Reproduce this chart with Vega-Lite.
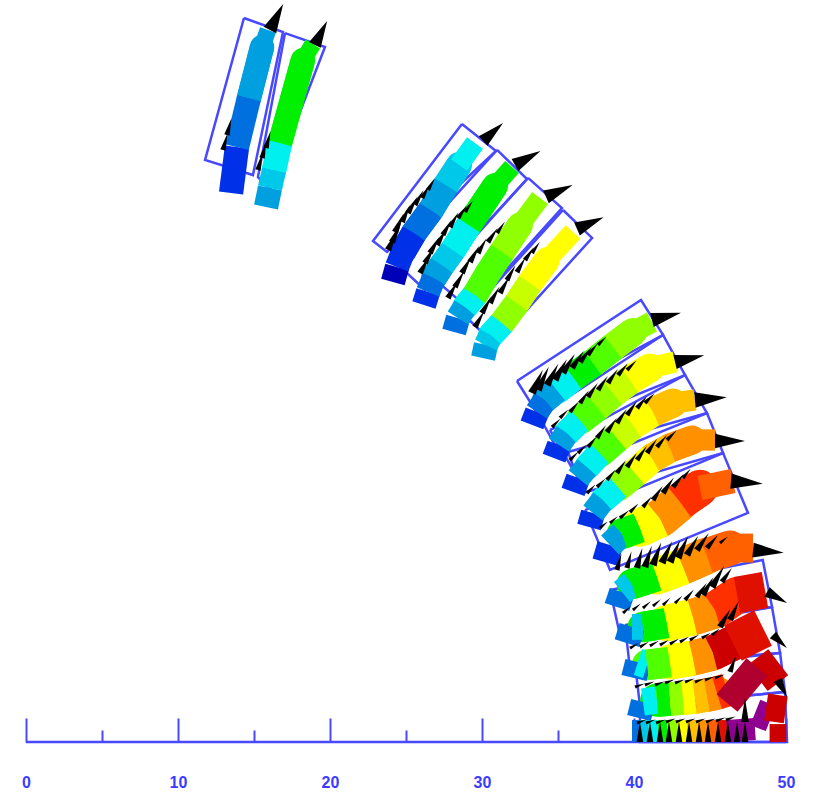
{"$schema":"https://vega.github.io/schema/vega-lite/v6.json","width":815,"height":794,"padding":0,"autosize":{"type":"none"},"background":"white","config":{"view":{"stroke":null}},
"datasets":{
"boxes":[
{"k":"axis","i":0,"x":0,"y":0},{"k":"axis","i":1,"x":50,"y":0},
{"k":"A1","i":0,"x":14.34,"y":47.63},{"k":"A1","i":1,"x":11.78,"y":38.29},{"k":"A1","i":2,"x":14.93,"y":37.30},{"k":"A1","i":3,"x":16.91,"y":46.71},{"k":"A1","i":4,"x":14.34,"y":47.63},
{"k":"A2","i":0,"x":17.04,"y":46.64},{"k":"A2","i":1,"x":19.67,"y":45.72},{"k":"A2","i":2,"x":16.05,"y":36.32},{"k":"A2","i":3,"x":15.26,"y":37.17},{"k":"A2","i":4,"x":17.04,"y":46.64},
{"k":"B1","i":0,"x":28.68,"y":40.66},{"k":"B1","i":1,"x":22.83,"y":32.96},{"k":"B1","i":2,"x":23.75,"y":32.24},{"k":"B1","i":3,"x":30.92,"y":38.88},{"k":"B1","i":4,"x":28.68,"y":40.66},
{"k":"B2","i":0,"x":30.99,"y":38.95},{"k":"B2","i":1,"x":32.96,"y":37.04},{"k":"B2","i":2,"x":26.25,"y":29.74},{"k":"B2","i":3,"x":24.28,"y":31.58},{"k":"B2","i":4,"x":30.99,"y":38.95},
{"k":"B3","i":0,"x":33.03,"y":37.11},{"k":"B3","i":1,"x":35.26,"y":35.13},{"k":"B3","i":2,"x":29.21,"y":28.42},{"k":"B3","i":3,"x":26.97,"y":30.39},{"k":"B3","i":4,"x":33.03,"y":37.11},
{"k":"B4","i":0,"x":35.33,"y":35.0},{"k":"B4","i":1,"x":37.24,"y":33.16},{"k":"B4","i":2,"x":30.86,"y":26.12},{"k":"B4","i":3,"x":28.95,"y":27.96},{"k":"B4","i":4,"x":35.33,"y":35.0},
{"k":"C1","i":0,"x":32.30,"y":23.75},{"k":"C1","i":1,"x":40.46,"y":29.08},{"k":"C1","i":2,"x":41.91,"y":26.78},{"k":"C1","i":3,"x":33.75,"y":21.45},{"k":"C1","i":4,"x":32.30,"y":23.75},
{"k":"C2","i":0,"x":33.36,"y":22.17},{"k":"C2","i":1,"x":41.91,"y":26.78},{"k":"C2","i":2,"x":43.36,"y":24.14},{"k":"C2","i":3,"x":34.80,"y":19.54},{"k":"C2","i":4,"x":33.36,"y":22.17},
{"k":"C3","i":0,"x":34.47,"y":20.53},{"k":"C3","i":1,"x":43.36,"y":24.14},{"k":"C3","i":2,"x":44.80,"y":21.64},{"k":"C3","i":3,"x":35.92,"y":18.03},{"k":"C3","i":4,"x":34.47,"y":20.53},
{"k":"C4","i":0,"x":35.66,"y":19.08},{"k":"C4","i":1,"x":44.80,"y":21.64},{"k":"C4","i":2,"x":45.86,"y":19.01},{"k":"C4","i":3,"x":36.64,"y":16.38},{"k":"C4","i":4,"x":35.66,"y":19.08},
{"k":"C5","i":0,"x":36.78,"y":15.26},{"k":"C5","i":1,"x":45.86,"y":19.01},{"k":"C5","i":2,"x":47.50,"y":15.07},{"k":"C5","i":3,"x":38.42,"y":11.32},{"k":"C5","i":4,"x":36.78,"y":15.26},
{"k":"D1","i":0,"x":38.42,"y":10.0},{"k":"D1","i":1,"x":48.47,"y":11.97},{"k":"D1","i":2,"x":49.08,"y":8.88},{"k":"D1","i":3,"x":39.08,"y":7.04},{"k":"D1","i":4,"x":38.42,"y":10.0},
{"k":"D2","i":0,"x":39.41,"y":7.70},{"k":"D2","i":1,"x":49.08,"y":8.88},{"k":"D2","i":2,"x":49.61,"y":5.86},{"k":"D2","i":3,"x":39.74,"y":4.74},{"k":"D2","i":4,"x":39.41,"y":7.70},
{"k":"D3","i":0,"x":40.07,"y":5.07},{"k":"D3","i":1,"x":49.61,"y":5.86},{"k":"D3","i":2,"x":49.93,"y":3.29},{"k":"D3","i":3,"x":40.39,"y":2.43},{"k":"D3","i":4,"x":40.07,"y":5.07},
{"k":"D4","i":0,"x":40.39,"y":2.37},{"k":"D4","i":1,"x":49.93,"y":3.29},{"k":"D4","i":2,"x":50.07,"y":0},{"k":"D4","i":3,"x":40.39,"y":0},{"k":"D4","i":4,"x":40.39,"y":2.37}
],
"cells":[
{"b":"A1","x":13.49,"y":36.12,"l":1,"w":1.6},{"b":"A1","x":13.88,"y":39.14,"l":2,"w":1.6},{"b":"A1","x":14.67,"y":42.37,"l":3,"w":1.6},{"b":"A1","x":15.53,"y":45.72,"l":3,"w":1.1},{"b":"A1","x":15.92,"y":46.84},
{"b":"A2","x":15.79,"y":35.20,"l":3,"w":1.6},{"b":"A2","x":16.05,"y":36.45,"l":4,"w":1.6},{"b":"A2","x":16.32,"y":37.63,"l":5,"w":1.6},{"b":"A2","x":16.71,"y":39.41,"l":6,"w":1.6},{"b":"A2","x":18.22,"y":44.87,"l":6,"w":1.1},{"b":"A2","x":18.88,"y":45.92},
{"b":"B1","x":24.14,"y":30.26,"l":0,"w":1.6},{"b":"B1","x":24.41,"y":31.25,"l":1,"w":1.6},{"b":"B1","x":24.80,"y":32.24,"l":1,"w":1.7},{"b":"B1","x":25.53,"y":33.49,"l":2,"w":1.7},{"b":"B1","x":26.64,"y":35.00,"l":3,"w":1.7},{"b":"B1","x":27.63,"y":36.64,"l":4,"w":1.7},{"b":"B1","x":28.49,"y":37.96,"l":5,"w":1.3},{"b":"B1","x":29.54,"y":39.41},
{"b":"B2","x":26.18,"y":28.75,"l":1,"w":1.6},{"b":"B2","x":26.45,"y":29.61,"l":2,"w":1.6},{"b":"B2","x":26.84,"y":30.53,"l":3,"w":1.7},{"b":"B2","x":27.37,"y":31.38,"l":4,"w":1.7},{"b":"B2","x":28.09,"y":32.37,"l":5,"w":1.7},{"b":"B2","x":29.14,"y":34.01,"l":6,"w":1.7},{"b":"B2","x":30.86,"y":36.58,"l":6,"w":1.2},{"b":"B2","x":31.97,"y":37.83},
{"b":"B3","x":28.16,"y":26.97,"l":2,"w":1.6},{"b":"B3","x":28.42,"y":27.89,"l":3,"w":1.6},{"b":"B3","x":28.88,"y":28.62,"l":5,"w":1.7},{"b":"B3","x":29.54,"y":29.41,"l":7,"w":1.7},{"b":"B3","x":30.39,"y":30.86,"l":7,"w":1.7},{"b":"B3","x":31.32,"y":32.24,"l":8,"w":1.7},{"b":"B3","x":32.50,"y":34.01,"l":8,"w":1.3},{"b":"B3","x":33.82,"y":35.79},
{"b":"B4","x":30.07,"y":25.26,"l":3,"w":1.6},{"b":"B4","x":30.26,"y":26.12,"l":4,"w":1.6},{"b":"B4","x":30.59,"y":26.78,"l":5,"w":1.7},{"b":"B4","x":31.32,"y":27.57,"l":8,"w":1.7},{"b":"B4","x":32.30,"y":28.88,"l":9,"w":1.7},{"b":"B4","x":33.16,"y":30.20,"l":10,"w":1.7},{"b":"B4","x":34.28,"y":31.71,"l":10,"w":1.3},{"b":"B4","x":35.99,"y":33.55},
{"b":"C1","x":33.29,"y":20.86,"l":1,"w":1.6},{"b":"C1","x":33.62,"y":21.71,"l":2,"w":1.6},{"b":"C1","x":34.14,"y":22.50,"l":3,"w":1.7},{"b":"C1","x":34.93,"y":23.16,"l":5,"w":1.85},{"b":"C1","x":35.99,"y":24.01,"l":6,"w":1.85},{"b":"C1","x":37.30,"y":24.93,"l":7,"w":1.85},{"b":"C1","x":38.62,"y":25.99,"l":8,"w":1.85},{"b":"C1","x":39.93,"y":26.97,"l":8,"w":1.4},{"b":"C1","x":41.18,"y":27.63},
{"b":"C2","x":34.74,"y":18.68,"l":1,"w":1.6},{"b":"C2","x":35.07,"y":19.54,"l":3,"w":1.6},{"b":"C2","x":35.59,"y":20.33,"l":5,"w":1.7},{"b":"C2","x":36.45,"y":21.18,"l":7,"w":1.9},{"b":"C2","x":37.57,"y":22.04,"l":8,"w":1.9},{"b":"C2","x":38.62,"y":22.96,"l":9,"w":1.9},{"b":"C2","x":39.74,"y":23.82,"l":10,"w":1.9},{"b":"C2","x":41.05,"y":24.61,"l":10,"w":1.4},{"b":"C2","x":42.70,"y":25.00},
{"b":"C3","x":35.99,"y":16.45,"l":1,"w":1.6},{"b":"C3","x":36.32,"y":17.37,"l":3,"w":1.6},{"b":"C3","x":36.91,"y":18.09,"l":5,"w":1.7},{"b":"C3","x":37.76,"y":19.01,"l":7,"w":1.9},{"b":"C3","x":38.88,"y":20.00,"l":9,"w":1.9},{"b":"C3","x":39.93,"y":20.86,"l":10,"w":1.9},{"b":"C3","x":41.25,"y":21.71,"l":11,"w":1.9},{"b":"C3","x":42.57,"y":22.30,"l":11,"w":1.4},{"b":"C3","x":44.01,"y":22.50},
{"b":"C4","x":37.04,"y":14.14,"l":1,"w":1.6},{"b":"C4","x":37.30,"y":15.07,"l":3,"w":1.6},{"b":"C4","x":37.96,"y":15.92,"l":5,"w":1.7},{"b":"C4","x":38.95,"y":16.78,"l":8,"w":1.9},{"b":"C4","x":40.07,"y":17.70,"l":10,"w":1.9},{"b":"C4","x":41.18,"y":18.68,"l":11,"w":1.9},{"b":"C4","x":42.37,"y":19.34,"l":12,"w":1.9},{"b":"C4","x":43.82,"y":19.87,"l":12,"w":1.4},{"b":"C4","x":45.33,"y":19.87},
{"b":"C5","x":38.09,"y":11.84,"l":1,"w":1.7},{"b":"C5","x":38.42,"y":12.96,"l":3,"w":1.7},{"b":"C5","x":39.21,"y":13.7,"l":6,"w":2},{"b":"C5","x":40.39,"y":14.1,"l":10,"w":2.5},{"b":"C5","x":41.71,"y":14.7,"l":12,"w":2.5},{"b":"C5","x":43.03,"y":15.8,"l":14,"w":2.4},{"b":"C5","x":44.34,"y":16.71,"l":13,"w":1.6},{"b":"C5","x":46.51,"y":17.17},
{"b":"D1","x":38.88,"y":8.88,"l":2,"w":1.7},{"b":"D1","x":39.21,"y":9.87,"l":4,"w":1.7},{"b":"D1","x":39.87,"y":10.4,"l":6,"w":2},{"b":"D1","x":41.51,"y":10.9,"l":10,"w":2.4},{"b":"D1","x":43.22,"y":11.55,"l":12,"w":2.4},{"b":"D1","x":44.80,"y":12.25,"l":13,"w":2.3},{"b":"D1","x":46.32,"y":12.76,"l":13,"w":1.9},{"b":"D1","x":47.83,"y":12.76},
{"b":"D2","x":39.54,"y":6.51,"l":2,"w":1.7},{"b":"D2","x":39.87,"y":7.57,"l":4,"w":1.7},{"b":"D2","x":40.59,"y":7.57,"l":6,"w":2},{"b":"D2","x":42.17,"y":7.83,"l":10,"w":2.4},{"b":"D2","x":43.88,"y":8.22,"l":12,"w":2.4},{"b":"D2","x":45.33,"y":8.68,"l":14,"w":2.4},{"b":"D2","x":46.78,"y":9.67,"l":15,"w":2.4},{"b":"D2","x":48.62,"y":10.00},
{"b":"D3","x":40.00,"y":4.21,"l":2,"w":1.7},{"b":"D3","x":40.26,"y":5.26,"l":5,"w":1.8},{"b":"D3","x":40.86,"y":5.07,"l":7,"w":2},{"b":"D3","x":42.37,"y":5.26,"l":10,"w":2.3},{"b":"D3","x":43.88,"y":5.53,"l":12,"w":2.3},{"b":"D3","x":45.20,"y":5.86,"l":16,"w":2.3},{"b":"D3","x":46.51,"y":6.51,"l":15,"w":2.6},{"b":"D3","x":48.49,"y":7.50},
{"b":"D4","x":40.33,"y":1.58,"l":2,"w":1.6},{"b":"D4","x":40.59,"y":2.63,"l":5,"w":1.8},{"b":"D4","x":41.51,"y":2.76,"l":6,"w":2.2},{"b":"D4","x":42.37,"y":2.83,"l":8,"w":2.2},{"b":"D4","x":43.22,"y":2.89,"l":10,"w":2.2},{"b":"D4","x":44.01,"y":2.96,"l":11,"w":2.2},{"b":"D4","x":44.80,"y":3.09,"l":12,"w":2.2},{"b":"D4","x":45.46,"y":3.22,"l":14,"w":2.2},{"b":"D4","x":46.12,"y":3.42},
{"b":"D4r","x":48.16,"y":5.59,"l":16,"w":1.7},{"b":"D4r","x":49.47,"y":3.88},
{"b":"D4c","x":46.12,"y":2.57,"l":17,"w":1.8},{"b":"D4c","x":48.09,"y":4.93},
{"b":"D5","x":39.87,"y":0.72,"l":2,"w":1.45},{"b":"D5","x":40.39,"y":0.72,"l":4,"w":1.45},{"b":"D5","x":40.92,"y":0.72,"l":5,"w":1.45},{"b":"D5","x":41.58,"y":0.72,"l":6,"w":1.45},{"b":"D5","x":42.17,"y":0.72,"l":8,"w":1.45},{"b":"D5","x":42.89,"y":0.72,"l":10,"w":1.45},{"b":"D5","x":43.49,"y":0.72,"l":11,"w":1.45},{"b":"D5","x":44.21,"y":0.72,"l":12,"w":1.45},{"b":"D5","x":44.87,"y":0.72,"l":13,"w":1.45},{"b":"D5","x":45.53,"y":0.72,"l":15,"w":1.45},{"b":"D5","x":46.12,"y":0.72,"l":18,"w":1.45},{"b":"D5","x":47.96,"y":0.85},
{"b":"E1","x":48.16,"y":0.92,"l":18,"w":1.1},{"b":"E1","x":48.82,"y":2.57},
{"b":"E2","x":49.21,"y":1.32,"l":16,"w":1.3},{"b":"E2","x":49.47,"y":3.09},
{"b":"E3","x":49.47,"y":0,"l":16,"w":1.1},{"b":"E3","x":49.47,"y":1.18}
],
"tips":[
{"x":16.05,"y":46.84,"a":27,"m":1.04},{"x":19.01,"y":45.86,"a":27,"m":0.96},{"x":30.07,"y":39.54,"a":48,"m":0.96},{"x":32.17,"y":37.96,"a":61,"m":1.04},{"x":34.21,"y":35.86,"a":66,"m":1.04},{"x":36.25,"y":33.75,"a":66,"m":1.04},{"x":41.18,"y":27.76,"a":76,"m":1.07},{"x":42.70,"y":25.00,"a":77,"m":1.07},{"x":44.01,"y":22.50,"a":85,"m":1.14},{"x":45.33,"y":19.80,"a":90,"m":1.07},{"x":46.38,"y":17.17,"a":95,"m":1.14},{"x":47.83,"y":12.63,"a":95,"m":1.1},{"x":48.75,"y":9.87,"a":119,"m":0.82},{"x":49.14,"y":7.04,"a":133,"m":0.68},{"x":49.47,"y":4.08,"a":152,"m":0.7}
],
"vectors":[
{"x":12.96,"y":38.95,"a":15,"m":0.5},{"x":13.22,"y":39.93,"a":15,"m":0.5},{"x":15.26,"y":37.63,"a":15,"m":0.5},{"x":15.53,"y":38.42,"a":15,"m":0.5},{"x":15.79,"y":39.08,"a":15,"m":0.5},
{"x":23.82,"y":32.37,"a":25,"m":0.6},{"x":24.08,"y":32.89,"a":25,"m":0.6},{"x":24.28,"y":33.55,"a":25,"m":0.6},{"x":24.74,"y":34.21,"a":25,"m":0.55},{"x":25.13,"y":34.80,"a":30,"m":0.55},{"x":25.59,"y":35.33,"a":30,"m":0.5},{"x":26.05,"y":35.79,"a":30,"m":0.45},{"x":26.45,"y":36.32,"a":30,"m":0.4},
{"x":25.92,"y":30.86,"a":30,"m":0.55},{"x":26.25,"y":31.51,"a":30,"m":0.55},{"x":26.58,"y":32.17,"a":30,"m":0.55},{"x":27.04,"y":32.70,"a":30,"m":0.55},{"x":27.43,"y":33.36,"a":30,"m":0.5},{"x":27.89,"y":33.88,"a":30,"m":0.5},{"x":28.42,"y":34.47,"a":35,"m":0.45},{"x":28.88,"y":34.87,"a":35,"m":0.4},
{"x":27.76,"y":29.21,"a":30,"m":0.55},{"x":28.22,"y":29.93,"a":30,"m":0.55},{"x":28.68,"y":30.86,"a":30,"m":0.55},{"x":29.21,"y":31.58,"a":30,"m":0.55},{"x":29.74,"y":32.17,"a":30,"m":0.5},{"x":30.39,"y":32.89,"a":35,"m":0.5},{"x":30.99,"y":33.49,"a":35,"m":0.4},
{"x":29.54,"y":27.30,"a":30,"m":0.55},{"x":30.00,"y":28.22,"a":30,"m":0.55},{"x":30.53,"y":28.88,"a":30,"m":0.55},{"x":31.18,"y":29.54,"a":30,"m":0.55},{"x":31.64,"y":30.39,"a":30,"m":0.5},{"x":32.30,"y":30.92,"a":30,"m":0.5},{"x":32.83,"y":31.71,"a":35,"m":0.45},{"x":33.29,"y":32.17,"a":35,"m":0.4},
{"x":33.29,"y":22.96,"a":25,"m":0.75},{"x":33.68,"y":23.16,"a":25,"m":0.75},{"x":34.28,"y":23.49,"a":28,"m":0.7},{"x":34.80,"y":23.82,"a":30,"m":0.7},{"x":35.33,"y":24.28,"a":32,"m":0.65},{"x":35.92,"y":24.61,"a":35,"m":0.6},{"x":36.45,"y":25.00,"a":38,"m":0.55},{"x":36.97,"y":25.46,"a":40,"m":0.45},{"x":37.63,"y":26.12,"a":45,"m":0.35},
{"x":34.61,"y":20.72,"a":45,"m":0.35},{"x":35.13,"y":21.32,"a":45,"m":0.35},{"x":35.79,"y":21.71,"a":40,"m":0.4},{"x":36.45,"y":22.30,"a":35,"m":0.45},{"x":36.97,"y":22.70,"a":35,"m":0.5},{"x":37.63,"y":23.16,"a":35,"m":0.5},{"x":38.29,"y":23.62,"a":35,"m":0.5},{"x":38.95,"y":24.14,"a":40,"m":0.45},{"x":39.54,"y":24.47,"a":45,"m":0.4},
{"x":35.79,"y":18.55,"a":45,"m":0.35},{"x":36.32,"y":19.01,"a":45,"m":0.35},{"x":36.97,"y":19.41,"a":40,"m":0.4},{"x":37.57,"y":20.00,"a":35,"m":0.45},{"x":38.22,"y":20.39,"a":35,"m":0.5},{"x":38.88,"y":20.99,"a":35,"m":0.5},{"x":39.54,"y":21.51,"a":35,"m":0.5},{"x":40.20,"y":21.97,"a":40,"m":0.45},{"x":40.72,"y":22.30,"a":45,"m":0.4},
{"x":36.91,"y":16.38,"a":45,"m":0.35},{"x":37.57,"y":16.78,"a":45,"m":0.35},{"x":38.22,"y":17.24,"a":40,"m":0.4},{"x":38.88,"y":17.70,"a":35,"m":0.45},{"x":39.54,"y":18.09,"a":35,"m":0.5},{"x":40.20,"y":18.55,"a":35,"m":0.5},{"x":40.86,"y":19.01,"a":35,"m":0.5},{"x":41.51,"y":19.41,"a":40,"m":0.45},{"x":42.17,"y":19.87,"a":45,"m":0.4},
{"x":37.76,"y":14.08,"a":50,"m":0.3},{"x":38.42,"y":14.41,"a":50,"m":0.3},{"x":39.08,"y":14.74,"a":50,"m":0.35},{"x":39.74,"y":15.13,"a":45,"m":0.35},{"x":40.59,"y":15.46,"a":40,"m":0.4},{"x":41.25,"y":15.92,"a":35,"m":0.5},{"x":41.91,"y":16.38,"a":35,"m":0.55},{"x":42.57,"y":16.78,"a":40,"m":0.5},{"x":43.22,"y":17.37,"a":40,"m":0.35},
{"x":38.88,"y":11.32,"a":15,"m":0.5},{"x":39.54,"y":11.45,"a":15,"m":0.5},{"x":40.20,"y":11.45,"a":15,"m":0.6},{"x":40.72,"y":11.51,"a":18,"m":0.65},{"x":41.25,"y":11.64,"a":20,"m":0.7},{"x":41.84,"y":11.78,"a":25,"m":0.7},{"x":42.37,"y":11.84,"a":25,"m":0.7},{"x":42.89,"y":12.11,"a":25,"m":0.7},{"x":43.49,"y":12.30,"a":30,"m":0.65},{"x":44.14,"y":12.63,"a":35,"m":0.6},{"x":44.80,"y":12.76,"a":40,"m":0.5},{"x":45.66,"y":13.09,"a":50,"m":0.3},
{"x":39.28,"y":8.49,"a":50,"m":0.3},{"x":39.93,"y":8.68,"a":50,"m":0.3},{"x":40.59,"y":8.82,"a":50,"m":0.3},{"x":41.25,"y":8.95,"a":50,"m":0.3},{"x":41.91,"y":9.01,"a":45,"m":0.3},{"x":42.70,"y":9.14,"a":45,"m":0.3},{"x":43.36,"y":9.34,"a":40,"m":0.4},{"x":44.14,"y":9.54,"a":35,"m":0.5},{"x":44.54,"y":9.67,"a":30,"m":0.6},{"x":45.13,"y":10.20,"a":30,"m":0.7},{"x":45.79,"y":10.53,"a":35,"m":0.5},
{"x":39.74,"y":6.18,"a":60,"m":0.3},{"x":40.39,"y":6.25,"a":60,"m":0.3},{"x":41.05,"y":6.32,"a":60,"m":0.3},{"x":41.71,"y":6.38,"a":60,"m":0.3},{"x":42.37,"y":6.45,"a":60,"m":0.3},{"x":43.03,"y":6.58,"a":60,"m":0.3},{"x":43.68,"y":6.71,"a":60,"m":0.3},{"x":44.47,"y":6.84,"a":60,"m":0.3},{"x":45.13,"y":7.04,"a":50,"m":0.3},{"x":45.66,"y":7.57,"a":30,"m":0.6},{"x":46.32,"y":8.03,"a":25,"m":0.6},
{"x":40.07,"y":3.62,"a":70,"m":0.3},{"x":40.72,"y":3.75,"a":70,"m":0.3},{"x":41.38,"y":3.75,"a":70,"m":0.3},{"x":42.04,"y":3.88,"a":70,"m":0.3},{"x":42.70,"y":3.88,"a":70,"m":0.3},{"x":43.36,"y":3.95,"a":70,"m":0.3},{"x":44.01,"y":3.95,"a":70,"m":0.3},{"x":44.67,"y":4.08,"a":70,"m":0.3},{"x":45.33,"y":4.21,"a":70,"m":0.3},{"x":46.32,"y":4.61,"a":20,"m":0.5},
{"x":40.20,"y":1.25,"a":70,"m":0.3},{"x":40.79,"y":1.25,"a":70,"m":0.3},{"x":41.45,"y":1.25,"a":70,"m":0.3},{"x":42.11,"y":1.32,"a":70,"m":0.3},{"x":42.76,"y":1.32,"a":70,"m":0.3},{"x":43.42,"y":1.32,"a":70,"m":0.3},{"x":44.08,"y":1.32,"a":70,"m":0.3},{"x":44.74,"y":1.32,"a":70,"m":0.3},{"x":45.39,"y":1.38,"a":70,"m":0.3},{"x":46.05,"y":1.45,"a":70,"m":0.3},
{"x":40.39,"y":0,"a":0,"m":0.6},{"x":41.05,"y":0,"a":0,"m":0.6},{"x":41.71,"y":0,"a":0,"m":0.6},{"x":42.30,"y":0,"a":0,"m":0.6},{"x":42.96,"y":0,"a":0,"m":0.6},{"x":43.62,"y":0,"a":0,"m":0.6},{"x":44.28,"y":0,"a":0,"m":0.6},{"x":44.87,"y":0,"a":0,"m":0.6},{"x":45.53,"y":0,"a":0,"m":0.6},{"x":46.18,"y":0,"a":0,"m":0.6},{"x":46.78,"y":0,"a":0,"m":0.6},{"x":47.30,"y":0,"a":0,"m":0.6},{"x":47.30,"y":1.32,"a":0,"m":0.7}
]},
"resolve":{"scale":{"size":"independent"}},
"encoding":{
"x":{"field":"x","type":"quantitative","title":null,"scale":{"domain":[-1.7105,51.908],"nice":false,"zero":false},"axis":{"values":[0,5,10,15,20,25,30,35,40,45,50],"offset":-52,"grid":false,"domain":false,"tickColor":"#4848ff","tickWidth":2,"tickSize":{"condition":{"test":"datum.value%10===0","value":-24},"value":-12},"labelExpr":"datum.value%10===0?datum.label:''","labelColor":"#3c3cff","labelFont":"Liberation Sans","labelFontWeight":"bold","labelFontSize":16,"labelPadding":56,"labelFlush":false,"labelOverlap":false}},
"y":{"field":"y","type":"quantitative","axis":null,"scale":{"domain":[-3.421,48.816],"nice":false,"zero":false}}
},
"layer":[
{"data":{"name":"boxes"},"mark":{"type":"line","stroke":"#4848ff","strokeWidth":2.5},"encoding":{"detail":{"field":"k"},"order":{"field":"i","type":"quantitative"}}},
{"data":{"name":"cells"},"transform":[{"window":[{"op":"lead","field":"x","as":"nx"},{"op":"lead","field":"y","as":"ny"},{"op":"lag","field":"x","param":2,"as":"px"},{"op":"lead","field":"x","param":2,"as":"nnx"}],"groupby":["b"]},{"filter":"datum.nx!=null&&datum.px!=null&&datum.nnx!=null&&datum.b!='D5'"}],"mark":{"type":"rule","strokeCap":"round"},"encoding":{"x2":{"field":"nx"},"y2":{"field":"ny"},"color":{"field":"l","type":"ordinal","legend":null,"scale":{"domain":[0,1,2,3,4,5,6,7,8,9,10,11,12,13,14,15,16,17,18],"range":["#0000b8","#0030e8","#0070e0","#00a0e0","#00c8e8","#00f0f0","#00f000","#50ff00","#90ff00","#c8ff00","#ffff00","#ffc000","#ff9000","#ff6000","#ff3000","#e01000","#cc0000","#b00030","#900090"]}},"size":{"field":"w","type":"quantitative","legend":null,"scale":{"domain":[0,2],"range":[0,30.4]}}}},
{"data":{"name":"cells"},"transform":[{"window":[{"op":"lead","field":"x","as":"nx"},{"op":"lead","field":"y","as":"ny"}],"groupby":["b"]},{"filter":"datum.nx!=null"}],"mark":{"type":"rule"},"encoding":{"x2":{"field":"nx"},"y2":{"field":"ny"},"color":{"field":"l","type":"ordinal","legend":null},"size":{"field":"w","type":"quantitative","legend":null,"scale":{"domain":[0,2],"range":[0,30.4]}}}},
{"data":{"name":"vectors"},"mark":{"type":"point","shape":"M-0.16,0L0,-1L0.16,0Z","filled":true,"color":"black","opacity":1},"encoding":{"angle":{"field":"a","type":"quantitative","scale":null},"size":{"field":"m","type":"quantitative","legend":null,"scale":{"type":"pow","exponent":2,"domain":[0,1],"range":[0,4700]}}}},
{"data":{"name":"tips"},"mark":{"type":"point","shape":"M-0.24,0L0,-1L0.24,0Z","filled":true,"color":"black","opacity":1},"encoding":{"angle":{"field":"a","type":"quantitative","scale":null},"size":{"field":"m","type":"quantitative","legend":null,"scale":{"type":"pow","exponent":2,"domain":[0,1],"range":[0,3136]}}}}
]}
